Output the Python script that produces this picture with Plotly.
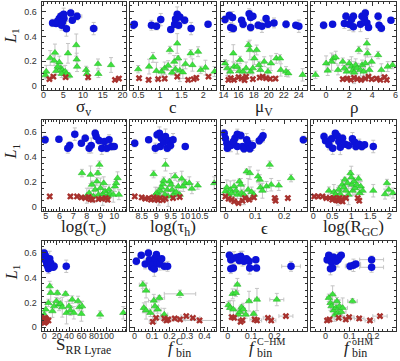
import plotly.graph_objects as go

# ---------------- data ----------------
# Panel 1: sigma_v
P1_BX = [2.3, 3.2, 4.0, 4.4, 5.1, 5.2, 4.1, 4.6, 5.8, 6.9, 7.3, 8.5, 12.7, 3.6, 4.8]
P1_BY = [0.511, 0.506, 0.546, 0.565, 0.581, 0.546, 0.527, 0.492, 0.463, 0.592, 0.533, 0.565, 0.465, 0.527, 0.519]
P1_GX = [0.5, 1.7, 2.7, 2.9, 3.2, 4.0, 4.4, 4.8, 5.1, 5.5, 5.8, 6.2, 6.5, 8.3, 8.4, 8.5, 10.8, 11.0, 13.8, 13.9, 17.1, 3.6, 4.6, 0.7]
P1_GY = [0.086, 0.226, 0.204, 0.269, 0.121, 0.191, 0.143, 0.129, 0.108, 0.116, 0.097, 0.264, 0.083, 0.331, 0.215, 0.156, 0.129, 0.097, 0.178, 0.097, 0.169, 0.156, 0.097, 0.116]
P1_RX = [1.5, 2.5, 5.6, 11.3, 18.1, 19.1]
P1_RY = [0.054, 0.075, 0.070, 0.070, 0.048, 0.059]
P1_BXE = [0.5, 0.4, 0.6, 0.5, 0.7, 0.5, 0.4, 0.6, 0.8, 0.7, 0.6, 1.2, 0.9, 0.4, 0.5]

# Panel 2: c
P2_BX = [0.385, 0.41, 0.806, 0.921, 1.02, 1.25, 1.34, 1.36, 1.40, 1.43, 1.46, 1.57, 1.72, 2.11]
P2_BY = [0.492, 0.5, 0.492, 0.484, 0.538, 0.457, 0.5, 0.543, 0.581, 0.492, 0.56, 0.533, 0.465, 0.5]
P2_GX = [0.50, 0.75, 0.84, 0.92, 1.04, 1.11, 1.19, 1.23, 1.28, 1.33, 1.36, 1.40, 1.42, 1.46, 1.53, 1.59, 1.71, 1.75, 1.88, 1.94, 2.05, 2.26]
P2_GY = [0.135, 0.156, 0.231, 0.121, 0.116, 0.143, 0.164, 0.291, 0.108, 0.196, 0.135, 0.344, 0.223, 0.124, 0.110, 0.178, 0.264, 0.169, 0.277, 0.129, 0.148, 0.116]
P2_RX = [0.52, 0.74, 0.96, 1.11, 1.40, 1.65, 1.78, 1.84, 2.12]
P2_RY = [0.062, 0.048, 0.054, 0.059, 0.075, 0.048, 0.054, 0.065, 0.075]

# Panel 3: mu_V
P3_BX = [14.2, 14.78, 14.96, 15.3, 15.2, 16.4, 16.6, 17.4, 17.6, 17.6, 17.9, 18.6, 19.1, 19.65, 19.9, 20.7, 22.3, 23.6, 24.0]
P3_BY = [0.538, 0.573, 0.473, 0.465, 0.554, 0.533, 0.5, 0.586, 0.554, 0.473, 0.565, 0.492, 0.484, 0.546, 0.5, 0.511, 0.5, 0.492, 0.484]
P3_GX = [14.2, 14.5, 14.9, 15.3, 15.4, 15.8, 16.1, 16.2, 16.6, 17.0, 17.3, 17.5, 17.6, 17.9, 18.1, 18.4, 18.7, 18.9, 19.4, 19.9, 20.3, 21.0, 21.5, 21.6, 22.3, 22.6, 24.5]
P3_GY = [0.183, 0.143, 0.116, 0.264, 0.156, 0.156, 0.121, 0.21, 0.116, 0.143, 0.331, 0.291, 0.116, 0.143, 0.223, 0.291, 0.169, 0.129, 0.196, 0.116, 0.183, 0.223, 0.223, 0.129, 0.116, 0.102, 0.089]
P3_RX = [14.65, 14.96, 15.4, 16.0, 16.4, 16.8, 17.0, 17.9, 18.8, 19.2, 19.65, 20.2, 20.9]
P3_RY = [0.048, 0.062, 0.048, 0.07, 0.059, 0.046, 0.075, 0.054, 0.067, 0.075, 0.062, 0.056, 0.059]

# Panel 4: rho
P4_BX = [-0.22, 0.56, 1.58, 1.72, 2.0, 2.19, 2.36, 2.36, 2.97, 3.11, 3.31, 3.39, 3.53, 3.67, 4.5, 4.58, 4.78, 5.61]
P4_BY = [0.492, 0.5, 0.506, 0.565, 0.5, 0.538, 0.565, 0.479, 0.5, 0.565, 0.546, 0.592, 0.511, 0.473, 0.565, 0.492, 0.468, 0.533]
P4_GX = [-0.92, 0.0, 0.14, 0.47, 0.61, 0.83, 1.03, 1.44, 1.58, 1.78, 2.0, 2.19, 2.28, 2.42, 2.56, 2.69, 2.83, 2.97, 3.11, 3.25, 3.39, 3.53, 3.58, 3.75, 3.94, 4.5, 4.78, 5.33, 5.75]
P4_GY = [0.089, 0.183, 0.124, 0.196, 0.223, 0.231, 0.129, 0.196, 0.143, 0.116, 0.183, 0.156, 0.124, 0.108, 0.169, 0.143, 0.291, 0.129, 0.169, 0.116, 0.183, 0.344, 0.264, 0.129, 0.196, 0.25, 0.129, 0.156, 0.169]
P4_RX = [1.44, 1.81, 2.14, 2.42, 2.69, 3.03, 3.39, 3.67, 3.94, 4.36, 4.69, 5.06, 5.25]
P4_RY = [0.054, 0.059, 0.048, 0.065, 0.054, 0.048, 0.059, 0.075, 0.054, 0.059, 0.048, 0.07, 0.048]

# Panel 5: log(tau_c)
P5_BX = [4.95, 5.96, 6.61, 6.75, 7.12, 7.6, 7.88, 8.17, 8.32, 8.61, 8.68, 8.89, 9.09, 9.28, 9.45, 9.62, 9.81, 10.0]
P5_BY = [0.539, 0.544, 0.472, 0.493, 0.584, 0.512, 0.552, 0.472, 0.493, 0.592, 0.565, 0.533, 0.472, 0.525, 0.472, 0.539, 0.485, 0.485]
P5_GX = [7.64, 8.0, 8.17, 8.27, 8.37, 8.49, 8.61, 8.73, 8.8, 8.85, 8.92, 8.99, 9.09, 9.16, 9.23, 9.33, 9.42, 9.52, 9.62, 9.71, 9.93, 10.05, 10.14, 10.24, 10.34]
P5_GY = [0.272, 0.091, 0.112, 0.259, 0.179, 0.085, 0.139, 0.205, 0.272, 0.099, 0.339, 0.152, 0.072, 0.104, 0.192, 0.125, 0.072, 0.091, 0.139, 0.104, 0.099, 0.165, 0.192, 0.232, 0.099]
P5_RX = [5.29, 6.8, 7.28, 7.6, 7.88, 8.13, 8.25, 8.41, 8.85, 9.09, 9.38, 9.52]
P5_RY = [0.085, 0.085, 0.085, 0.077, 0.072, 0.08, 0.064, 0.059, 0.064, 0.067, 0.072, 0.059]

# Panel 6: log(tau_h)
P6_BX = [8.26, 8.74, 8.97, 9.03, 9.11, 9.14, 9.18, 9.26, 9.32, 9.38, 9.44, 9.49, 9.58, 10.0]
P6_BY = [0.512, 0.539, 0.472, 0.579, 0.592, 0.485, 0.552, 0.52, 0.565, 0.472, 0.531, 0.493, 0.539, 0.485]
P6_GX = [8.91, 8.97, 9.03, 9.09, 9.14, 9.18, 9.23, 9.26, 9.30, 9.32, 9.38, 9.41, 9.46, 9.51, 9.55, 9.60, 9.65, 9.69, 9.76, 9.81, 9.88, 9.93, 10.0, 10.14, 10.23, 10.43, 11.0]
P6_GY = [0.264, 0.099, 0.117, 0.085, 0.131, 0.157, 0.184, 0.211, 0.099, 0.339, 0.139, 0.085, 0.205, 0.179, 0.139, 0.104, 0.245, 0.12, 0.165, 0.099, 0.227, 0.165, 0.192, 0.192, 0.147, 0.173, 0.192]
P6_RX = [8.26, 8.5, 8.62, 8.74, 8.82, 8.91, 8.99, 9.06, 9.14, 9.23, 9.32, 9.58, 9.81]
P6_RY = [0.085, 0.077, 0.067, 0.072, 0.059, 0.077, 0.067, 0.056, 0.072, 0.056, 0.067, 0.072, 0.08]

# Panel 7: epsilon
P7_BX = [-0.006, -0.002, 0.003, 0.005, 0.017, 0.026, 0.031, 0.039, 0.039, 0.051, 0.057, 0.062, 0.071, 0.076, 0.082, 0.091, 0.114, 0.122, 0.127, 0.265]
P7_BY = [0.592, 0.552, 0.512, 0.472, 0.493, 0.525, 0.552, 0.584, 0.485, 0.573, 0.485, 0.467, 0.539, 0.512, 0.467, 0.493, 0.531, 0.552, 0.571, 0.539]
P7_GX = [-0.002, 0.003, 0.009, 0.015, 0.02, 0.028, 0.035, 0.039, 0.046, 0.051, 0.054, 0.062, 0.071, 0.076, 0.082, 0.088, 0.096, 0.11, 0.116, 0.118, 0.125, 0.139, 0.15, 0.155, 0.181, 0.223]
P7_GY = [0.125, 0.157, 0.099, 0.139, 0.112, 0.165, 0.131, 0.099, 0.205, 0.179, 0.112, 0.099, 0.285, 0.139, 0.272, 0.12, 0.099, 0.245, 0.219, 0.157, 0.131, 0.165, 0.339, 0.179, 0.173, 0.232]
P7_RX = [-0.002, 0.009, 0.02, 0.028, 0.043, 0.057, 0.065, 0.08, 0.096, 0.167, 0.17, 0.212]
P7_RY = [0.085, 0.067, 0.059, 0.045, 0.032, 0.051, 0.072, 0.059, 0.077, 0.072, 0.051, 0.072]

# Panel 8: log(R_GC)
P8_BX = [0.28, 0.32, 0.41, 0.48, 0.51, 0.58, 0.63, 0.67, 0.71, 0.77, 0.84, 0.93, 1.03, 1.09, 1.12, 1.21, 1.28, 1.35, 1.58]
P8_BY = [0.565, 0.531, 0.499, 0.547, 0.472, 0.592, 0.571, 0.525, 0.48, 0.552, 0.504, 0.493, 0.547, 0.52, 0.485, 0.504, 0.485, 0.499, 0.485]
P8_GX = [0.41, 0.54, 0.58, 0.65, 0.67, 0.71, 0.76, 0.8, 0.83, 0.86, 0.9, 0.93, 0.98, 1.0, 1.02, 1.04, 1.07, 1.1, 1.15, 1.19, 1.22, 1.25, 1.3, 1.58, 1.89, 1.94, 1.99, 2.1]
P8_GY = [0.131, 0.12, 0.099, 0.085, 0.139, 0.104, 0.179, 0.157, 0.219, 0.131, 0.192, 0.099, 0.272, 0.237, 0.179, 0.131, 0.205, 0.152, 0.179, 0.227, 0.112, 0.165, 0.131, 0.131, 0.104, 0.192, 0.139, 0.112]
P8_RX = [0.02, 0.13, 0.24, 0.34, 0.43, 0.5, 0.54, 0.6, 0.65, 0.69, 0.74, 0.77, 0.86, 1.17, 1.21]
P8_RY = [0.085, 0.085, 0.085, 0.072, 0.072, 0.059, 0.072, 0.056, 0.051, 0.072, 0.059, 0.045, 0.072, 0.072, 0.051]

# Panel 9: S_RR Lyrae
P9_BX = [0, 1.6, 2.6, 1.6, 3.7, 4.2, 5.8, 6.8, 8.9, 10.5, 14.3, 15.9, 35.4]
P9_BY = [0.6, 0.581, 0.565, 0.546, 0.527, 0.506, 0.492, 0.473, 0.554, 0.519, 0.484, 0.492, 0.492]
P9_GX = [0, 2.6, 8.9, 10.5, 6.8, 13.2, 15.9, 19.5, 21.1, 23.8, 26.4, 29, 34.3, 35.9, 39.7, 42.2, 44.9, 47.6, 54.4, 56.5, 59.7, 60.8, 89.8, 127]
P9_GY = [0.102, 0.143, 0.331, 0.277, 0.196, 0.129, 0.169, 0.21, 0.277, 0.183, 0.188, 0.161, 0.269, 0.116, 0.169, 0.135, 0.223, 0.116, 0.21, 0.161, 0.108, 0.169, 0.102, 0.116]
P9_RX = [0, 1, 2.6, 3.7, 6.8, 1.6, 0.5, 2.0, 3.0, 0.3]
P9_RY = [0.07, 0.054, 0.043, 0.062, 0.054, 0.075, 0.035, 0.065, 0.05, 0.058]

# Panel 10: f_bin^C
P10_BX = [0.01, 0.038, 0.061, 0.079, 0.085, 0.094, 0.098, 0.106, 0.113, 0.117, 0.125, 0.132, 0.144, 0.155, 0.17, 0.189]
P10_BY = [0.533, 0.581, 0.511, 0.6, 0.546, 0.527, 0.484, 0.506, 0.471, 0.56, 0.587, 0.519, 0.511, 0.554, 0.492, 0.492]
P10_GX = [0.047, 0.066, 0.053, 0.066, 0.091, 0.11, 0.117, 0.132, 0.142, 0.17, 0.26]
P10_GY = [0.344, 0.296, 0.156, 0.135, 0.116, 0.215, 0.169, 0.143, 0.237, 0.102, 0.269]
P10_RX = [0.104, 0.123, 0.17, 0.183, 0.193, 0.23, 0.26, 0.296, 0.334, 0.372]
P10_RY = [0.043, 0.075, 0.07, 0.054, 0.062, 0.07, 0.062, 0.089, 0.075, 0.054]
P10_GXE = [0.02, 0.02, 0.01, 0.02, 0.02, 0.03, 0.02, 0.02, 0.03, 0.02, 0.09]
P10_RXE = [0.02, 0.02, 0.02, 0.02, 0.03, 0.03, 0.03, 0.03, 0.04, 0.1]

# Panel 11: f_bin^{C-HM}
P11_BX = [0.007, 0.013, 0.013, 0.024, 0.027, 0.041, 0.049, 0.055, 0.063, 0.069, 0.08, 0.091, 0.094, 0.12, 0.123, 0.271]
P11_BY = [0.581, 0.546, 0.473, 0.479, 0.56, 0.565, 0.538, 0.573, 0.554, 0.533, 0.554, 0.533, 0.479, 0.546, 0.479, 0.492]
P11_GX = [0.003, 0.01, 0.021, 0.024, 0.035, 0.041, 0.045, 0.052, 0.059, 0.066, 0.077, 0.091, 0.111, 0.125, 0.21]
P11_GY = [0.178, 0.156, 0.269, 0.143, 0.277, 0.344, 0.102, 0.124, 0.161, 0.143, 0.102, 0.21, 0.108, 0.223, 0.223]
P11_RX = [0.017, 0.027, 0.055, 0.063, 0.115, 0.125, 0.172, 0.186, 0.249]
P11_RY = [0.081, 0.075, 0.043, 0.056, 0.062, 0.054, 0.075, 0.054, 0.089]
P11_BXE = [0.01, 0.01, 0.01, 0.01, 0.01, 0.01, 0.01, 0.01, 0.01, 0.01, 0.01, 0.01, 0.01, 0.01, 0.01, 0.04]
P11_GXE = [0.01, 0.01, 0.01, 0.01, 0.01, 0.01, 0.01, 0.01, 0.01, 0.01, 0.01, 0.01, 0.01, 0.01, 0.03]
P11_RXE = [0.01, 0.01, 0.01, 0.01, 0.02, 0.02, 0.02, 0.02, 0.03]

# Panel 12: f_bin^{oHM}
P12_BX = [0.007, 0.014, 0.021, 0.025, 0.021, 0.03, 0.034, 0.044, 0.052, 0.058, 0.066, 0.103, 0.117, 0.127, 0.193, 0.193]
P12_BY = [0.546, 0.581, 0.56, 0.527, 0.473, 0.479, 0.565, 0.533, 0.546, 0.565, 0.581, 0.492, 0.5, 0.511, 0.546, 0.484]
P12_GX = [0.014, 0.021, 0.025, 0.03, 0.034, 0.039, 0.044, 0.048, 0.052, 0.058, 0.066, 0.072, 0.113]
P12_GY = [0.237, 0.196, 0.169, 0.264, 0.135, 0.097, 0.156, 0.21, 0.116, 0.169, 0.124, 0.156, 0.21]
P12_RX = [0.007, 0.017, 0.055, 0.085, 0.099, 0.141, 0.186, 0.228]
P12_RY = [0.054, 0.062, 0.075, 0.062, 0.081, 0.07, 0.054, 0.089]
P12_BXE = [0.01, 0.01, 0.01, 0.01, 0.01, 0.01, 0.01, 0.01, 0.01, 0.01, 0.01, 0.02, 0.03, 0.02, 0.05, 0.05]
P12_GXE = [0.01, 0.01, 0.01, 0.01, 0.01, 0.01, 0.01, 0.01, 0.01, 0.01, 0.02, 0.02, 0.02]
P12_RXE = [0.01, 0.01, 0.02, 0.02, 0.02, 0.02, 0.02, 0.03]

# vertical (L1) errors per group
BLUE_YE = [0.03, 0.02, 0.04, 0.03, 0.05, 0.02, 0.03, 0.04, 0.06, 0.03, 0.02, 0.03, 0.05, 0.02, 0.03, 0.04, 0.03, 0.02, 0.05, 0.03]
GREEN_YE = [0.03, 0.06, 0.04, 0.07, 0.03, 0.05, 0.04, 0.03, 0.02, 0.05, 0.03, 0.08, 0.02, 0.09, 0.05, 0.04, 0.03, 0.05, 0.04, 0.03,
            0.06, 0.04, 0.03, 0.05, 0.04, 0.03, 0.05, 0.04, 0.03]
RED_YE = [0.01, 0.015, 0.01, 0.012, 0.01, 0.015, 0.01, 0.012, 0.01, 0.015, 0.01, 0.012, 0.01, 0.015, 0.01]

# axis titles and ticks
X_TITLES = ["σ<sub>v</sub>", "c", "μ<sub>V</sub>", "ρ",
            "log(τ<sub>c</sub>)", "log(τ<sub>h</sub>)", "ϵ", "log(R<sub>GC</sub>)",
            "S<sub>RR Lyrae</sub>", None, None, None]
F_SUPS = ["C", "C−HM", "oHM"]
X_TICKVALS = [[0, 5, 10, 15, 20], [0.5, 1, 1.5, 2], [14, 16, 18, 20, 22, 24], [0, 2, 4, 6],
              [5, 6, 7, 8, 9, 10], [8.5, 9, 9.5, 10, 10.5], [0, 0.1, 0.2], [0, 0.5, 1, 1.5, 2],
              [0, 20, 40, 60, 80, 100], [0, 0.1, 0.2, 0.3, 0.4], [0, 0.1, 0.2], [0, 0.1, 0.2]]
X_RANGES = [[-0.5, 21], [0.32, 2.3], [13.7, 25.1], [-1.3, 6.05],
            [4.69, 10.89], [8.11, 11.07], [-0.016, 0.278], [-0.06, 2.18],
            [-4.3, 132], [-0.024, 0.468], [-0.028, 0.34], [-0.06, 0.295]]
X_MINOR = [1, 0.1, 0.5, 0.5, 0.2, 0.1, 0.02, 0.1, 5, 0.02, 0.02, 0.02]

PANELS = [
    (P1_BX, P1_BY, P1_GX, P1_GY, P1_RX, P1_RY, P1_BXE, None, None),
    (P2_BX, P2_BY, P2_GX, P2_GY, P2_RX, P2_RY, None, None, None),
    (P3_BX, P3_BY, P3_GX, P3_GY, P3_RX, P3_RY, None, None, None),
    (P4_BX, P4_BY, P4_GX, P4_GY, P4_RX, P4_RY, None, None, None),
    (P5_BX, P5_BY, P5_GX, P5_GY, P5_RX, P5_RY, None, None, None),
    (P6_BX, P6_BY, P6_GX, P6_GY, P6_RX, P6_RY, None, None, None),
    (P7_BX, P7_BY, P7_GX, P7_GY, P7_RX, P7_RY, None, None, None),
    (P8_BX, P8_BY, P8_GX, P8_GY, P8_RX, P8_RY, None, None, None),
    (P9_BX, P9_BY, P9_GX, P9_GY, P9_RX, P9_RY, None, None, None),
    (P10_BX, P10_BY, P10_GX, P10_GY, P10_RX, P10_RY, None, P10_GXE, P10_RXE),
    (P11_BX, P11_BY, P11_GX, P11_GY, P11_RX, P11_RY, P11_BXE, P11_GXE, P11_RXE),
    (P12_BX, P12_BY, P12_GX, P12_GY, P12_RX, P12_RY, P12_BXE, P12_GXE, P12_RXE),
]

# ---------------- layout geometry (pixels) ----------------
W, H = 400, 361
COLS = [(39, 125), (129, 216), (221, 308), (312, 398)]
ROWS = [(2, 90), (120, 212), (242, 332)]
Y_RANGES = [[-0.032, 0.681], [-0.035, 0.70], [-0.032, 0.694]]
TITLE_Y = [108, 229, 347]
L1_Y = [36, 152, 273]
F_LEFT = [165, 247, 343]

BLUE = "#0c12d8"
GREEN = "#3ee23e"
RED = "#a8322e"
ERR = "#c4c4c4"
TICKFONT = dict(family="Liberation Sans, Arial, sans-serif", size=9, color="#333")
SERIF = "Liberation Serif, Times New Roman, serif"


def px_x(x):
    return x / W


def px_y(y):
    return 1 - y / H


def err(arr, n):
    if arr is None:
        return dict(visible=False)
    return dict(type="data", array=arr[:n], color=ERR, thickness=1, width=2)


fig = go.Figure()
layout = dict(width=W, height=H, margin=dict(l=0, r=0, t=0, b=0),
              paper_bgcolor="white", plot_bgcolor="white", showlegend=False)
annotations = []

for i, (bx, by, gx, gy, rx, ry, bxe, gxe, rxe) in enumerate(PANELS):
    r, c = divmod(i, 4)
    xa = "x" if i == 0 else f"x{i+1}"
    ya = "y" if i == 0 else f"y{i+1}"
    fig.add_trace(go.Scatter(x=gx, y=gy, xaxis=xa, yaxis=ya, mode="markers",
                             marker=dict(symbol="triangle-up", size=6.5, color=GREEN,
                                         line=dict(width=0.5, color="#22b022")),
                             error_y=err(GREEN_YE, len(gy)), error_x=err(gxe, len(gx))))
    fig.add_trace(go.Scatter(x=bx, y=by, xaxis=xa, yaxis=ya, mode="markers",
                             marker=dict(symbol="circle", size=7.5, color=BLUE, line=dict(width=0)),
                             error_y=err(BLUE_YE, len(by)), error_x=err(bxe, len(bx))))
    fig.add_trace(go.Scatter(x=rx, y=ry, xaxis=xa, yaxis=ya, mode="markers",
                             marker=dict(symbol="x", size=6, color=RED, line=dict(width=0)),
                             error_y=err(RED_YE, len(ry)), error_x=err(rxe, len(rx))))

    x0, x1 = COLS[c]
    y0, y1 = ROWS[r]
    axkey = "xaxis" if i == 0 else f"xaxis{i+1}"
    aykey = "yaxis" if i == 0 else f"yaxis{i+1}"
    common = dict(showgrid=False, zeroline=False, showline=True, linecolor="#333", linewidth=1,
                  mirror="allticks", ticks="inside", ticklen=4, tickcolor="#333", tickwidth=1,
                  tickfont=TICKFONT, tickangle=0)
    layout[axkey] = dict(common, domain=[px_x(x0), px_x(x1)], anchor=ya,
                         range=X_RANGES[i], tickmode="array", tickvals=X_TICKVALS[i],
                         minor=dict(ticks="inside", ticklen=2, dtick=X_MINOR[i], tick0=0,
                                    tickcolor="#333", showgrid=False),
                         ticklabelstandoff=-4)
    layout[aykey] = dict(common, domain=[px_y(y1), px_y(y0)], anchor=xa,
                         range=Y_RANGES[r], tick0=0, dtick=0.2, showticklabels=(c == 0),
                         minor=dict(ticks="inside", ticklen=2, dtick=0.05, tick0=0,
                                    tickcolor="#333", showgrid=False),
                         ticklabelstandoff=2)

    # x-axis titles
    if X_TITLES[i] is not None:
        annotations.append(dict(text=X_TITLES[i], xref="paper", yref="paper",
                                x=px_x((x0 + x1) / 2), y=px_y(TITLE_Y[r]),
                                xanchor="center", yanchor="middle", showarrow=False,
                                font=dict(family=SERIF, size=17, color="#222")))
    else:
        k = i - 9
        fl = F_LEFT[k]
        annotations.append(dict(text="<i>f</i>", xref="paper", yref="paper",
                                x=px_x(fl), y=px_y(348), xanchor="left", yanchor="middle",
                                showarrow=False, font=dict(family=SERIF, size=17, color="#222")))
        annotations.append(dict(text=F_SUPS[k], xref="paper", yref="paper",
                                x=px_x(fl + 8), y=px_y(342.5), xanchor="left", yanchor="middle",
                                showarrow=False, font=dict(family=SERIF, size=10, color="#222")))
        annotations.append(dict(text="bin", xref="paper", yref="paper",
                                x=px_x(fl + 8), y=px_y(353.5), xanchor="left", yanchor="middle",
                                showarrow=False, font=dict(family=SERIF, size=12, color="#222")))

for r in range(3):
    annotations.append(dict(text="<i>L</i><sub>1</sub>", xref="paper", yref="paper",
                            x=px_x(9), y=px_y(L1_Y[r]), xanchor="center", yanchor="middle",
                            textangle=-90, showarrow=False,
                            font=dict(family=SERIF, size=16, color="#222")))

layout["annotations"] = annotations
fig.update_layout(**layout)
fig.write_html("out.html", config={"displayModeBar": False},
               post_script="document.body.style.margin='0';document.body.style.padding='0';")
